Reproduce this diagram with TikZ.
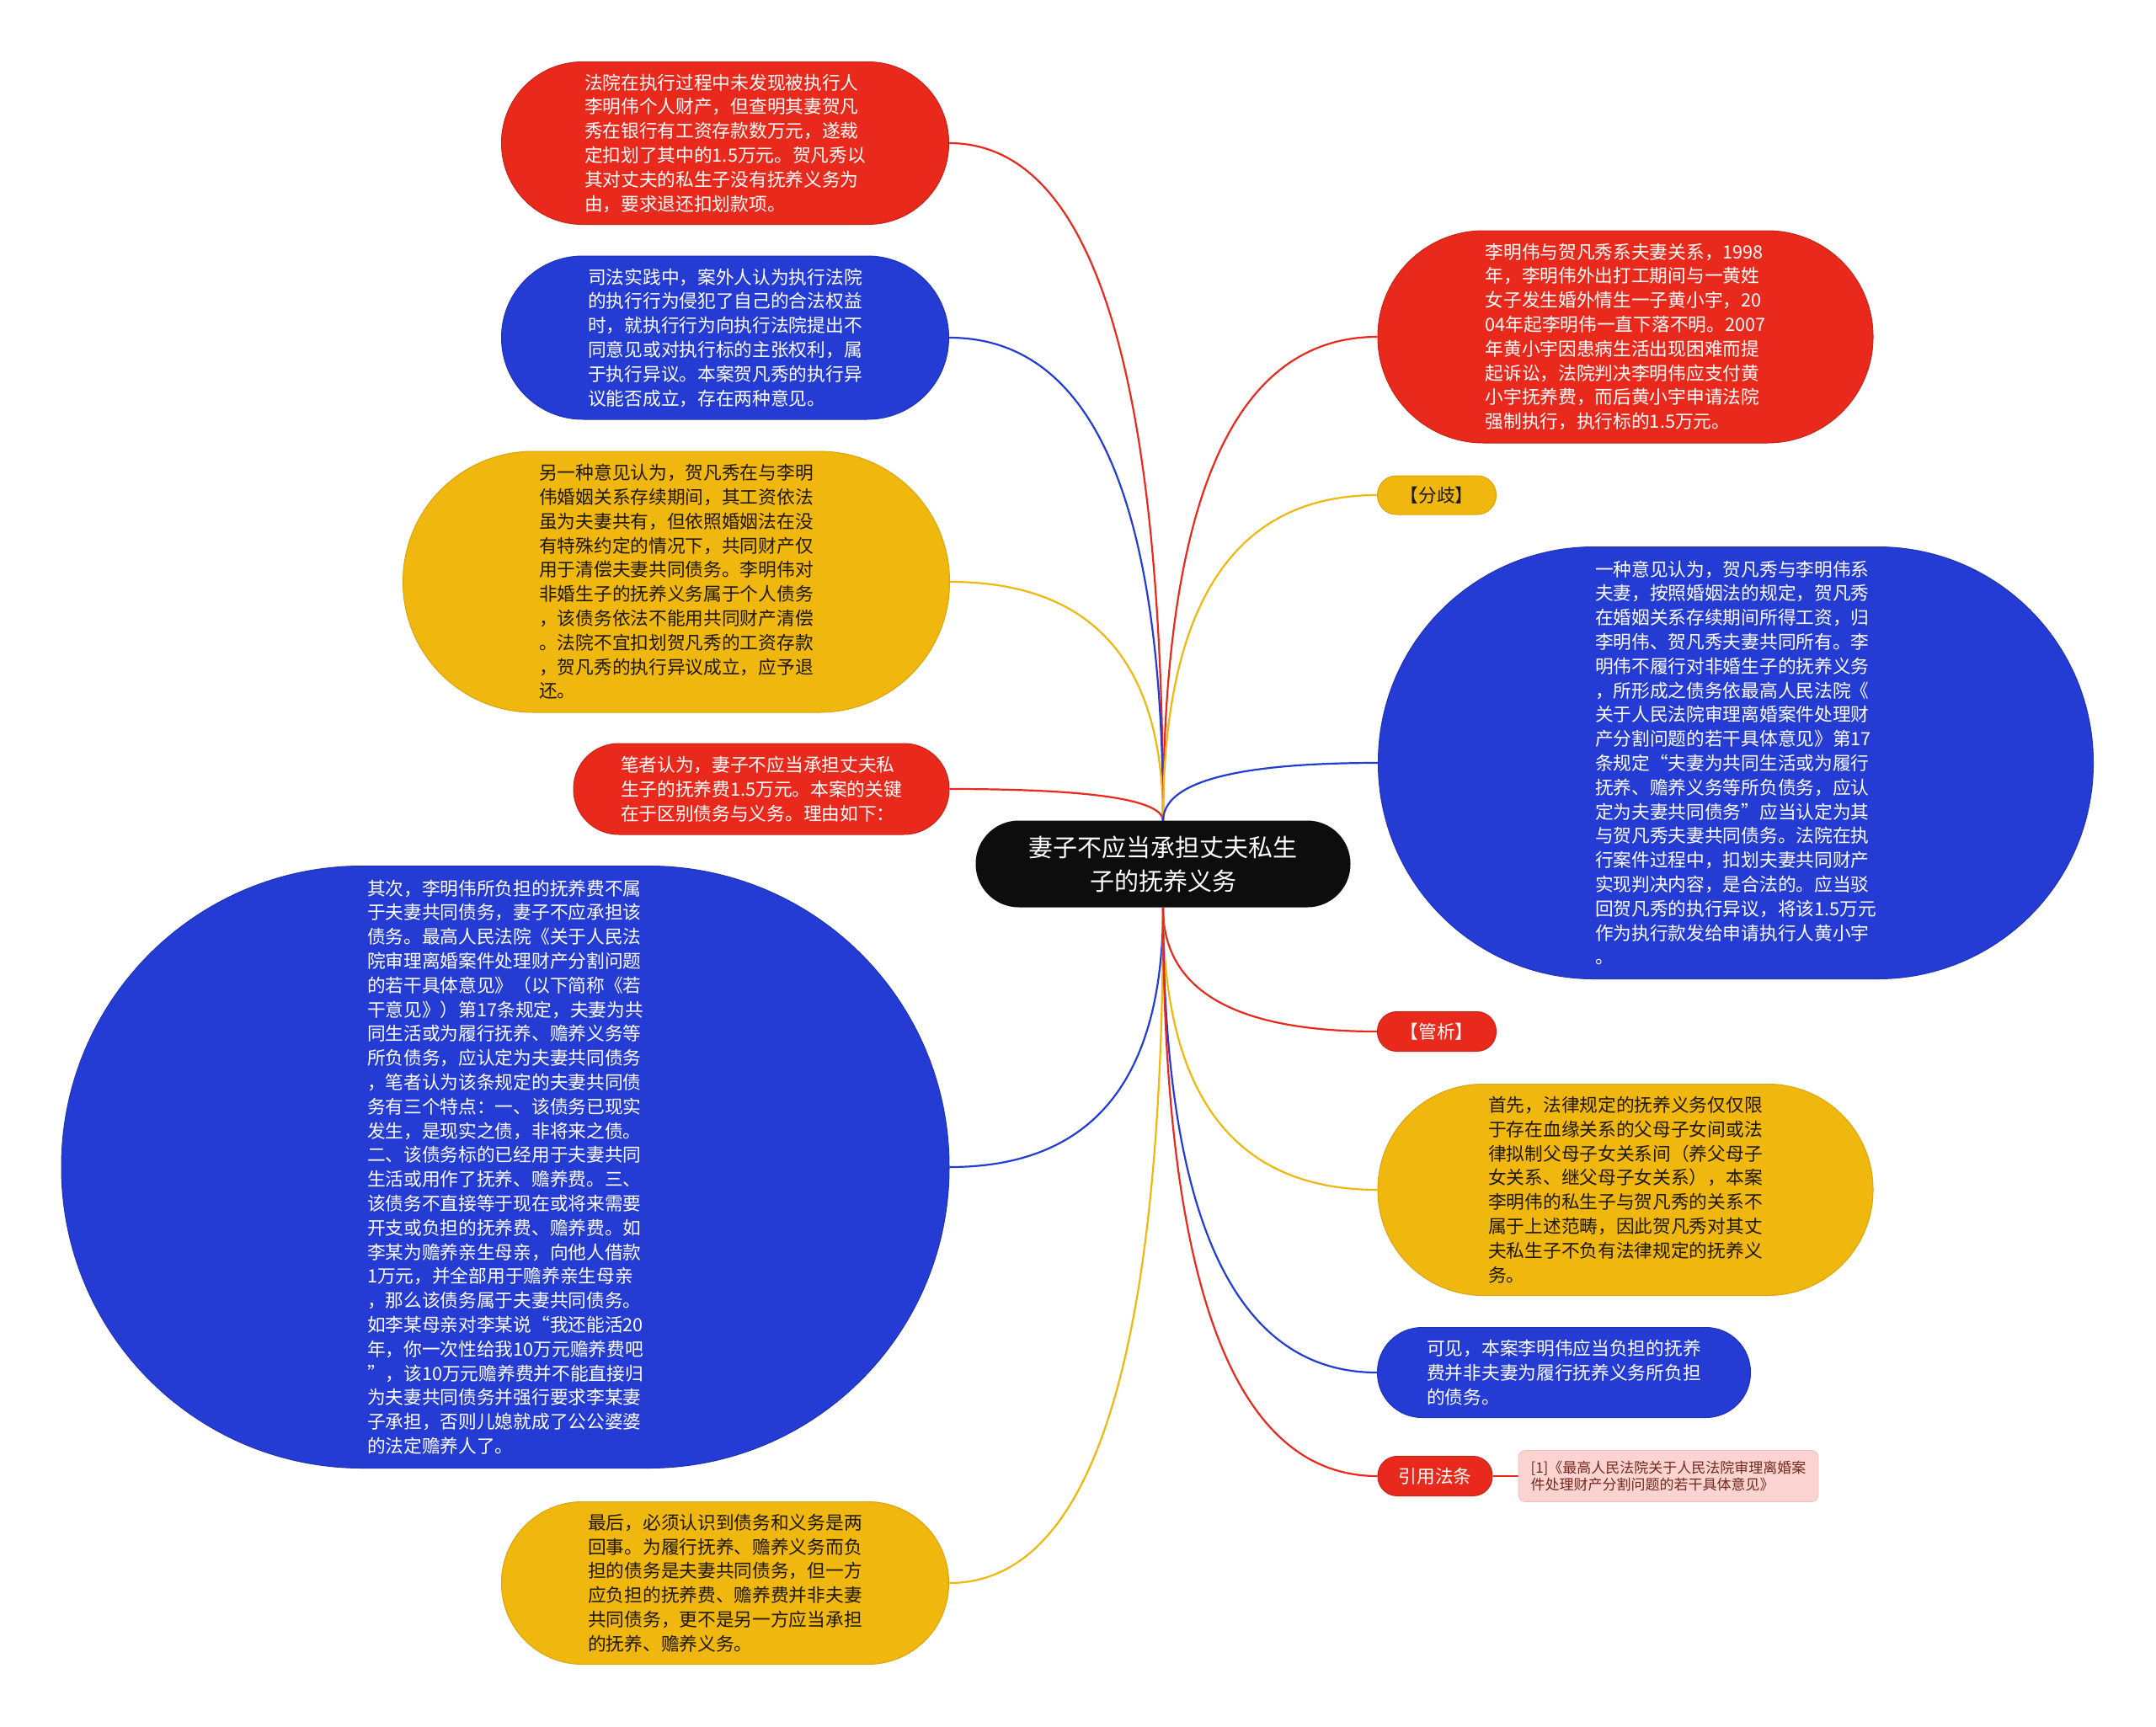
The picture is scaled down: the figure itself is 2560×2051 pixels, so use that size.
\documentclass[tikz,border=0pt]{standalone}
\usepackage{fontspec}
\setmainfont{Noto Sans CJK SC}
\usetikzlibrary{calc}
\definecolor{cred}{RGB}{233,41,28}
\definecolor{cblue}{RGB}{36,60,212}
\definecolor{cyel}{RGB}{240,183,14}
\definecolor{cdark}{RGB}{30,24,8}
\definecolor{cpink}{RGB}{251,212,209}
\definecolor{cnote}{RGB}{115,40,30}
\pgfdeclarelayer{back}
\pgfdeclarelayer{bg}
\pgfsetlayers{back,bg,main}
\tikzset{
  bub/.style={rectangle, inner sep=0pt, align=left, font=\fontsize{10.85pt}{14.4pt}\selectfont},
  redbub/.style={bub, fill=cred, draw=cred!85!black, line width=0.5pt, text=white},
  bluebub/.style={bub, fill=cblue, draw=cblue!85!black, line width=0.5pt, text=white},
  yelbub/.style={bub, fill=cyel, draw=cyel!90!black, line width=0.5pt, text=cdark},
  conn/.style={line width=1.1pt},
}
\newcommand\lconn[3]{%
  \draw[conn,#1] (#2.east) .. controls ($(#2.east)!0.667!(#2.east -| #3)$) and ($(#3)!0.667!(#2.east -| #3)$) .. (#3);}
\newcommand\rconn[3]{%
  \draw[conn,#1] (#2.west) .. controls ($(#2.west)!0.667!(#2.west -| #3)$) and ($(#3)!0.667!(#2.west -| #3)$) .. (#3);}
\begin{document}
\begin{tikzpicture}[x=0.5pt,y=-0.5pt]
\begin{pgfonlayer}{back}
\fill[white] (0,0) rectangle (2560,2051);
\end{pgfonlayer}
\path[use as bounding box] (0,0) rectangle (2560,2051);

% center
\node[bub, fill=black!95, text=white, align=center, minimum width=222.5pt, minimum height=51.5pt, rounded corners=25.6pt, font=\fontsize{14.5pt}{20pt}\selectfont] (c) at (1381,1026) {妻子不应当承担丈夫私生\\子的抚养义务};
\coordinate (ct) at (1381,975);
\coordinate (cb) at (1381,1078);

% left side
\node[redbub, minimum width=265.5pt, minimum height=96.5pt, rounded corners=48pt] (l1) at (861,170) {法院在执行过程中未发现被执行人\\李明伟个人财产，但查明其妻贺凡\\秀在银行有工资存款数万元，遂裁\\定扣划了其中的1.5万元。贺凡秀以\\其对丈夫的私生子没有抚养义务为\\由，要求退还扣划款项。};

\node[bluebub, minimum width=265.5pt, minimum height=97pt, rounded corners=48.3pt] (l2) at (861,401) {司法实践中，案外人认为执行法院\\的执行行为侵犯了自己的合法权益\\时，就执行行为向执行法院提出不\\同意见或对执行标的主张权利，属\\于执行异议。本案贺凡秀的执行异\\议能否成立，存在两种意见。};

\node[yelbub, minimum width=324.5pt, minimum height=155pt, rounded corners=77.3pt] (l3) at (803,691) {另一种意见认为，贺凡秀在与李明\\伟婚姻关系存续期间，其工资依法\\虽为夫妻共有，但依照婚姻法在没\\有特殊约定的情况下，共同财产仅\\用于清偿夫妻共同债务。李明伟对\\非婚生子的抚养义务属于个人债务\\，该债务依法不能用共同财产清偿\\。法院不宜扣划贺凡秀的工资存款\\，贺凡秀的执行异议成立，应予退\\还。};

\node[redbub, minimum width=223pt, minimum height=54pt, rounded corners=26.8pt] (l4) at (904,937) {笔者认为，妻子不应当承担丈夫私\\生子的抚养费1.5万元。本案的关键\\在于区别债务与义务。理由如下：};

\node[bluebub, minimum width=527pt, minimum height=357.5pt, rounded corners=178.5pt] (l5) at (600,1386) {其次，李明伟所负担的抚养费不属\\于夫妻共同债务，妻子不应承担该\\债务。最高人民法院《关于人民法\\院审理离婚案件处理财产分割问题\\的若干具体意见》（以下简称《若\\干意见》）第17条规定，夫妻为共\\同生活或为履行抚养、赡养义务等\\所负债务，应认定为夫妻共同债务\\，笔者认为该条规定的夫妻共同债\\务有三个特点：一、该债务已现实\\发生，是现实之债，非将来之债。\\二、该债务标的已经用于夫妻共同\\生活或用作了抚养、赡养费。三、\\该债务不直接等于现在或将来需要\\开支或负担的抚养费、赡养费。如\\李某为赡养亲生母亲，向他人借款\\1万元，并全部用于赡养亲生母亲\\，那么该债务属于夫妻共同债务。\\如李某母亲对李某说“我还能活20\\年，你一次性给我10万元赡养费吧\\”，该10万元赡养费并不能直接归\\为夫妻共同债务并强行要求李某妻\\子承担，否则儿媳就成了公公婆婆\\的法定赡养人了。};

\node[yelbub, minimum width=265.5pt, minimum height=96.5pt, rounded corners=48pt] (l6) at (861,1880) {最后，必须认识到债务和义务是两\\回事。为履行抚养、赡养义务而负\\担的债务是夫妻共同债务，但一方\\应负担的抚养费、赡养费并非夫妻\\共同债务，更不是另一方应当承担\\的抚养、赡养义务。};

% right side
\node[redbub, minimum width=294pt, minimum height=126pt, rounded corners=62.8pt] (r1) at (1930,400) {李明伟与贺凡秀系夫妻关系，1998\\年，李明伟外出打工期间与一黄姓\\女子发生婚外情生一子黄小宇，20\\04年起李明伟一直下落不明。2007\\年黄小宇因患病生活出现困难而提\\起诉讼，法院判决李明伟应支付黄\\小宇抚养费，而后黄小宇申请法院\\强制执行，执行标的1.5万元。};

\node[yelbub, minimum width=70.5pt, minimum height=23pt, rounded corners=11.3pt] (r2) at (1706,588) {【分歧】};

\node[bluebub, minimum width=424.5pt, minimum height=256.5pt, rounded corners=128pt] (r3) at (2061,906) {一种意见认为，贺凡秀与李明伟系\\夫妻，按照婚姻法的规定，贺凡秀\\在婚姻关系存续期间所得工资，归\\李明伟、贺凡秀夫妻共同所有。李\\明伟不履行对非婚生子的抚养义务\\，所形成之债务依最高人民法院《\\关于人民法院审理离婚案件处理财\\产分割问题的若干具体意见》第17\\条规定“夫妻为共同生活或为履行\\抚养、赡养义务等所负债务，应认\\定为夫妻共同债务”应当认定为其\\与贺凡秀夫妻共同债务。法院在执\\行案件过程中，扣划夫妻共同财产\\实现判决内容，是合法的。应当驳\\回贺凡秀的执行异议，将该1.5万元\\作为执行款发给申请执行人黄小宇\\。};

\node[redbub, minimum width=70.5pt, minimum height=23.5pt, rounded corners=11.5pt] (r4) at (1706,1225) {【管析】};

\node[yelbub, minimum width=294pt, minimum height=125.5pt, rounded corners=62.5pt] (r5) at (1930,1413) {首先，法律规定的抚养义务仅仅限\\于存在血缘关系的父母子女间或法\\律拟制父母子女关系间（养父母子\\女关系、继父母子女关系），本案\\李明伟的私生子与贺凡秀的关系不\\属于上述范畴，因此贺凡秀对其丈\\夫私生子不负有法律规定的抚养义\\务。};

\node[bluebub, minimum width=221.5pt, minimum height=53.5pt, rounded corners=26.5pt] (r6) at (1857,1630) {可见，本案李明伟应当负担的抚养\\费并非夫妻为履行抚养义务所负担\\的债务。};

\node[redbub, minimum width=68pt, minimum height=23.5pt, rounded corners=11.5pt] (r7) at (1704,1753) {引用法条};

\node[bub, fill=cpink, draw=cpink!92!black, line width=0.4pt, text=cnote, rounded corners=4pt, minimum width=178pt, minimum height=30.5pt, font=\fontsize{8.5pt}{10.4pt}\selectfont] (r8) at (1981,1753) {[1]《最高人民法院关于人民法院审理离婚案\\件处理财产分割问题的若干具体意见》};

% connectors
\begin{pgfonlayer}{bg}
\lconn{cred}{l1}{ct}
\lconn{cblue}{l2}{ct}
\lconn{cyel}{l3}{ct}
\lconn{cred}{l4}{ct}
\lconn{cblue}{l5}{cb}
\lconn{cyel}{l6}{cb}
\rconn{cred}{r1}{ct}
\rconn{cyel}{r2}{ct}
\rconn{cblue}{r3}{ct}
\rconn{cred}{r4}{cb}
\rconn{cyel}{r5}{cb}
\rconn{cblue}{r6}{cb}
\rconn{cred}{r7}{cb}
\draw[conn,cred] (r7.east) -- (r8.west);
\end{pgfonlayer}
\end{tikzpicture}
\end{document}
